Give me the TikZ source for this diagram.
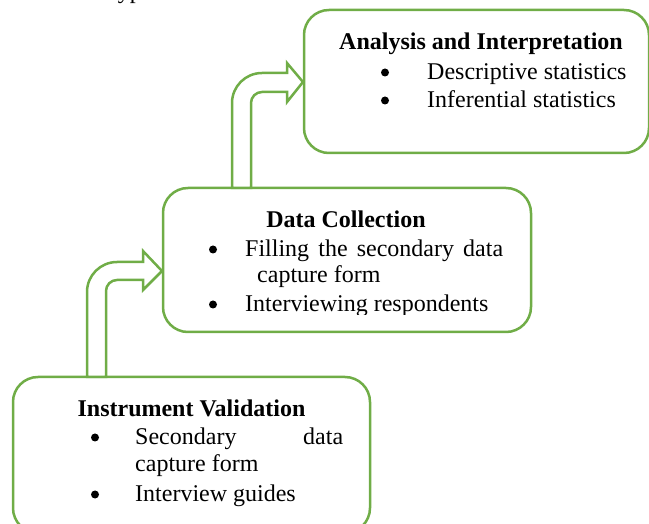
\documentclass[tikz,border=0pt]{standalone}
\usepackage{fontspec}
\setmainfont{Liberation Serif}
\definecolor{ogreen}{HTML}{70AD47}
\begin{document}
\begin{tikzpicture}[x=1pt,y=1pt,
  box/.style={draw=ogreen,line width=2.5pt,rounded corners=25pt},
  barrow/.style={draw=ogreen,line width=2.5pt,fill=white,line join=miter},
  txt/.style={inner sep=0pt,font=\fontsize{24}{28}\selectfont},
  ttl/.style={txt,font=\fontsize{24}{28}\selectfont\bfseries,anchor=base},
  bul/.style={circle,fill=black,inner sep=0pt,minimum size=8pt},
  item/.style={txt,anchor=base west}]
\clip (0,0) rectangle (649,523);
% fragment of preceding text
\node[item] (frag) at (111,524) {types};
% boxes
\draw[box] (304,370) rectangle (649,513);
\draw[box] (163,191) rectangle (531,335);
\draw[box] (13,-10) rectangle (370,146);
\coordinate (b1top) at (87,146);
\coordinate (b2top) at (232,335);
% bent arrows
\draw[barrow] (b1top) -- (87,231) arc[start angle=180,end angle=90,radius=30pt]
  -- (143,261) -- (143,272) -- (162,252) -- (143,233) -- (143,243) -- (117,243)
  arc[start angle=90,end angle=180,radius=11pt] -- (106,146) -- cycle;
\draw[barrow] (b2top) -- (232,420) arc[start angle=180,end angle=90,radius=30pt]
  -- (287,450) -- (287,460) -- (303,441) -- (287,421) -- (287,431) -- (262,431)
  arc[start angle=90,end angle=180,radius=11pt] -- (251,335) -- cycle;
% box 3 text
\node[ttl] (t3) at (481,473) {Analysis and Interpretation};
\node[bul] (b31) at (385,450.5) {};
\node[item] (i31) at (427,443) {Descriptive statistics};
\node[bul] (b32) at (385,422.5) {};
\node[item] (i32) at (427,415) {Inferential statistics};
% box 2 text
\node[ttl] (t2) at (346,295) {Data Collection};
\node[bul] (b21) at (213,273.5) {};
\node[item] (i21) at (245,266) {\makebox[258pt][s]{Filling the secondary data}};
\node[item] (i21b) at (257,240) {capture form};
\node[bul] (b22) at (213,218.5) {};
\begin{scope}
\clip (200,208) rectangle (520,240);
\node[item] (i22) at (245,211) {Interviewing respondents};
\end{scope}
% box 1 text
\node[ttl] (t1) at (191.5,106) {Instrument Validation};
\node[bul] (b11) at (95,85.5) {};
\node[item] (i11) at (135,78) {\makebox[208pt][s]{Secondary data}};
\node[item] (i11b) at (135,51) {capture form};
\node[bul] (b12) at (95,28.5) {};
\node[item] (i12) at (135,21) {Interview guides};
\end{tikzpicture}
\end{document}
